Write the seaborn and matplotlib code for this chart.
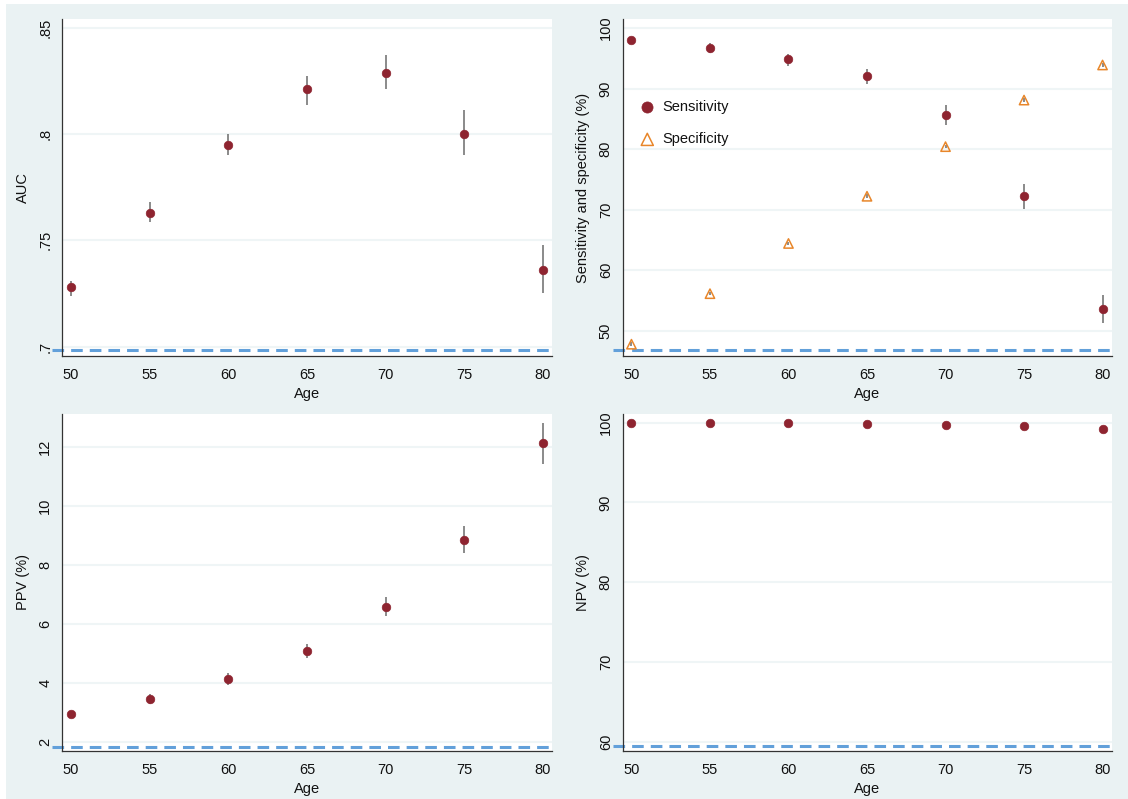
import matplotlib
matplotlib.use("Agg")
import matplotlib.pyplot as plt
import numpy as np
import pandas as pd
import seaborn as sns
from matplotlib.patches import Rectangle

# ---- data -------------------------------------------------------------
ages = [50, 55, 60, 65, 70, 75, 80]

auc = [0.7281, 0.7630, 0.7950, 0.8210, 0.8288, 0.8000, 0.7359]
auc_lo = [0.7240, 0.7588, 0.7901, 0.8138, 0.8210, 0.7901, 0.7251]
auc_hi = [0.7307, 0.7679, 0.8000, 0.8271, 0.8372, 0.8110, 0.7478]
auc_ref = 0.6984

sens = [98.1, 96.7, 94.9, 92.05, 85.6, 72.3, 53.6]
sens_lo = [97.6, 95.85, 93.75, 90.8, 83.95, 70.1, 51.3]
sens_hi = [98.4, 97.5, 95.7, 93.25, 87.25, 74.25, 55.9]
spec = [47.75, 56.1, 64.4, 72.2, 80.4, 88.1, 93.9]
spec_lo = [47.4, 55.8, 64.1, 71.9, 80.1, 87.8, 93.6]
spec_hi = [48.1, 56.4, 64.7, 72.5, 80.7, 88.4, 94.2]
sens_ref = 46.86

ppv = [2.94, 3.45, 4.14, 5.08, 6.57, 8.84, 12.13]
ppv_lo = [2.86, 3.28, 3.92, 4.85, 6.25, 8.40, 11.42]
ppv_hi = [3.03, 3.61, 4.34, 5.32, 6.89, 9.30, 12.81]
ppv_ref = 1.83

npv = [100.0, 100.0, 100.0, 99.8, 99.7, 99.55, 99.2]
npv_lo = [99.95, 99.95, 99.95, 99.7, 99.6, 99.4, 98.9]
npv_hi = [100.0, 100.0, 100.0, 99.9, 99.8, 99.7, 99.5]
npv_ref = 59.46

auc_ticks = [0.7, 0.75, 0.8, 0.85]
auc_ticklabels = [".7", ".75", ".8", ".85"]
sens_ticks = [50, 60, 70, 80, 90, 100]
ppv_ticks = [2, 4, 6, 8, 10, 12]
npv_ticks = [60, 70, 80, 90, 100]

# ---- style ------------------------------------------------------------
sns.set_theme(style="white")
plt.rcParams["font.family"] = ["Liberation Sans", "DejaVu Sans"]

BG = "#EAF2F3"
GRID = "#EFF5F6"
MAROON = "#8E2430"
ORANGE = "#E8862A"
CI = "#6B6B6B"
REF = "#62A0DA"

fig = plt.figure(figsize=(11.28, 7.99), dpi=100, facecolor="white")
fig.patches.append(Rectangle((6 / 1128, 0), 1, 1 - 4 / 799,
                             transform=fig.transFigure, facecolor=BG,
                             edgecolor="none", zorder=-10))

W, H = 1128, 799


def make_ax(left, top, right, bottom):
    return fig.add_axes([left / W, 1 - bottom / H, (right - left) / W, (bottom - top) / H])


def style_ax(ax, yticks, ylim, ylabel, yticklabels=None):
    ax.set_facecolor("white")
    ax.set_xlim(49.43, 80.57)
    ax.set_ylim(*ylim)
    ax.set_xticks(ages)
    ax.set_yticks(yticks)
    if yticklabels is not None:
        ax.set_yticklabels(yticklabels)
    ax.tick_params(axis="both", direction="out", length=5, width=0.8,
                   color="#333333", labelsize=10.5, labelcolor="#111111")
    ax.tick_params(axis="y", labelrotation=90, pad=2)
    for lab in ax.get_yticklabels():
        lab.set_verticalalignment("center")
    ax.yaxis.grid(True, color=GRID, lw=1.5)
    ax.set_axisbelow(True)
    for s in ("top", "right"):
        ax.spines[s].set_visible(False)
    for s in ("left", "bottom"):
        ax.spines[s].set_color("#333333")
        ax.spines[s].set_linewidth(0.9)
    ax.set_xlabel("Age", fontsize=10.5, labelpad=4, color="#111111")
    ax.set_ylabel(ylabel, fontsize=10.5, labelpad=6, color="#111111")


def ref_line(ax, y):
    ax.axhline(y, xmin=-0.02, xmax=1, color=REF, lw=2.2,
               ls=(0, (3.8, 2.3)), clip_on=False, zorder=1)


def dots(ax, x, y, lo, hi):
    ax.vlines(x, lo, hi, color=CI, lw=1.1, zorder=2)
    df = pd.DataFrame({"age": x, "val": y})
    sns.scatterplot(data=df, x="age", y="val", ax=ax, color=MAROON, s=38,
                    edgecolor=MAROON, linewidth=0.5, zorder=3)


# panel 1: AUC
ax1 = make_ax(62, 19, 552, 356)
dots(ax1, ages, auc, auc_lo, auc_hi)
ref_line(ax1, auc_ref)
style_ax(ax1, auc_ticks, (0.6956, 0.854), "AUC", auc_ticklabels)

# panel 2: sensitivity / specificity
ax2 = make_ax(622.5, 19, 1111.5, 356)
ax2.vlines(ages, sens_lo, sens_hi, color=CI, lw=1.1, zorder=2)
ax2.vlines(ages, spec_lo, spec_hi, color=CI, lw=1.1, zorder=2)
sens_df = pd.DataFrame({"age": ages, "val": sens})
spec_df = pd.DataFrame({"age": ages, "val": spec})
sns.scatterplot(data=sens_df, x="age", y="val", ax=ax2, color=MAROON, s=38,
                edgecolor=MAROON, linewidth=0.5, zorder=3, label="Sensitivity")
sns.scatterplot(data=spec_df, x="age", y="val", ax=ax2, marker="^", s=45,
                facecolor="none", edgecolor=ORANGE, linewidth=1.1, zorder=3,
                label="Specificity")
ref_line(ax2, sens_ref)
style_ax(ax2, sens_ticks, (45.8, 101.5), "Sensitivity and specificity (%)")
leg = ax2.legend(loc="upper left", bbox_to_anchor=(0.0, 0.79), frameon=False,
                 fontsize=10.5, labelspacing=1.25, handletextpad=0.0,
                 markerscale=1.3, borderaxespad=0.3)
for t in leg.get_texts():
    t.set_color("#111111")

# panel 3: PPV
ax3 = make_ax(62, 414, 552, 750.7)
dots(ax3, ages, ppv, ppv_lo, ppv_hi)
ref_line(ax3, ppv_ref)
style_ax(ax3, ppv_ticks, (1.695, 13.11), "PPV (%)")

# panel 4: NPV
ax4 = make_ax(622.5, 414, 1111.5, 750.7)
dots(ax4, ages, npv, npv_lo, npv_hi)
ref_line(ax4, npv_ref)
style_ax(ax4, npv_ticks, (58.87, 101.09), "NPV (%)")

fig.savefig("out.png", dpi=100, facecolor=fig.get_facecolor())
